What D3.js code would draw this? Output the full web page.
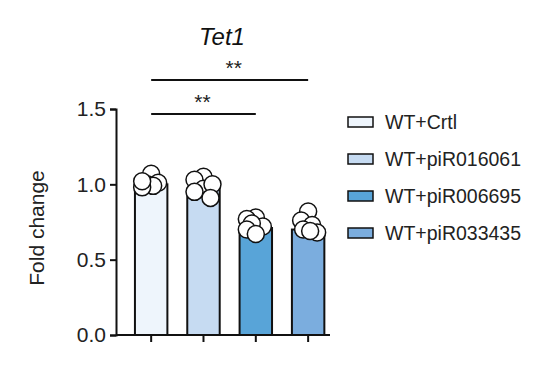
<!DOCTYPE html>
<html>
<head>
<meta charset="utf-8">
<script src="https://cdn.jsdelivr.net/npm/d3@7"></script>
<style>
  html, body { margin: 0; padding: 0; background: #fff; }
  svg { display: block; font-family: "Liberation Sans", Arial, sans-serif; }
</style>
</head>
<body>
<div id="chart"></div>
<script>
// data
const groups = ["WT+Crtl", "WT+piR016061", "WT+piR006695", "WT+piR033435"];
const means = [1.00, 0.97, 0.71, 0.70];
const points = [
    [1.07, 1.00, 1.01, 0.99, 0.98, 1.02],
    [1.05, 1.03, 0.97, 1.00, 0.95, 0.91],
    [0.78, 0.77, 0.72, 0.74, 0.70, 0.67],
    [0.82, 0.76, 0.73, 0.70, 0.68, 0.69]
];
const colors = ["#eef5fc", "#c6dbf2", "#58a4d8", "#7badde"];
const yTicks = [0, 0.5, 1.0, 1.5];
const comparisons = [
    { from: 0, to: 2, label: "**" },
    { from: 0, to: 3, label: "**" }
];

const width = 549, height = 389;
const margin = { top: 109, right: 219, bottom: 54, left: 116 };

const svg = d3.select("#chart").append("svg")
    .attr("width", width)
    .attr("height", height);

const x = d3.scaleBand()
    .domain(groups)
    .range([125, 334.3])
    .paddingInner(0.38)
    .paddingOuter(0.19);

const y = d3.scaleLinear()
    .domain([0, 1.5])
    .range([height - margin.bottom, margin.top]);

const cx = g => x(g) + x.bandwidth() / 2;

// bars
svg.append("g")
    .selectAll("rect")
    .data(groups)
    .join("rect")
    .attr("x", d => x(d))
    .attr("y", (d, i) => y(means[i]))
    .attr("width", x.bandwidth())
    .attr("height", (d, i) => y(0) - y(means[i]))
    .attr("fill", (d, i) => colors[i])
    .attr("stroke", "#111")
    .attr("stroke-width", 2);

// small swarm: keep the dots inside the bar, let them overlap when crowded
function swarm(vals, center) {
    const placed = [];
    const minDist = 11, maxOff = 9;
    vals.forEach(v => {
        const py = y(v);
        let best = 0, bestD = -1;
        for (let k = 0; k <= 2 * maxOff; k++) {
            const off = (k % 2 === 0 ? 1 : -1) * Math.ceil(k / 2);
            const d = placed.length ? d3.min(placed, p => Math.hypot(p.x - (center + off), p.y - py)) : Infinity;
            if (d >= minDist) { best = off; break; }
            if (d > bestD) { bestD = d; best = off; }
        }
        placed.push({ x: center + best, y: py });
    });
    return placed;
}

groups.forEach((g, i) => {
    svg.append("g")
        .selectAll("circle")
        .data(swarm(points[i], cx(g)))
        .join("circle")
        .attr("cx", d => d.x)
        .attr("cy", d => d.y)
        .attr("r", 8.5)
        .attr("fill", "#fff")
        .attr("stroke", "#111")
        .attr("stroke-width", 1.5);
});

// y axis
const yAxis = svg.append("g")
    .attr("transform", `translate(${margin.left},0)`)
    .call(d3.axisLeft(y).tickValues(yTicks).tickFormat(d3.format(".1f")).tickSize(6).tickPadding(4));
yAxis.select(".domain").attr("stroke", "#111").attr("stroke-width", 2);
yAxis.selectAll(".tick line").attr("stroke", "#111").attr("stroke-width", 2);
yAxis.selectAll("text").attr("font-size", 21).attr("fill", "#222");

// x axis
const xAxis = svg.append("g")
    .attr("transform", `translate(0,${y(0)})`)
    .call(d3.axisBottom(x).tickSize(7).tickFormat(""));
xAxis.select(".domain")
    .attr("d", `M${margin.left},0H${margin.left + 214}`)
    .attr("stroke", "#111").attr("stroke-width", 2);
xAxis.selectAll(".tick line").attr("stroke", "#111").attr("stroke-width", 2);

// y label
svg.append("text")
    .attr("transform", `translate(44,${(y(0) + y(1.5)) / 2 + 6}) rotate(-90)`)
    .attr("text-anchor", "middle")
    .attr("font-size", 21)
    .attr("fill", "#222")
    .text("Fold change");

// title
svg.append("text")
    .attr("x", 222)
    .attr("y", 45)
    .attr("text-anchor", "middle")
    .attr("font-size", 24)
    .attr("font-style", "italic")
    .attr("fill", "#111")
    .text("Tet1");

// significance bars
const sigY = [114, 80];
comparisons.forEach((c, i) => {
    const x1 = cx(groups[c.from]), x2 = cx(groups[c.to]);
    svg.append("line")
        .attr("x1", x1).attr("x2", x2)
        .attr("y1", sigY[i]).attr("y2", sigY[i])
        .attr("stroke", "#111").attr("stroke-width", 2);
    svg.append("text")
        .attr("x", (x1 + x2) / 2 + (i === 1 ? 4 : -1))
        .attr("y", sigY[i] - 5)
        .attr("text-anchor", "middle")
        .attr("font-size", 21)
        .attr("fill", "#222")
        .text(c.label);
});

// legend
const legend = svg.append("g")
    .selectAll("g")
    .data(groups)
    .join("g")
    .attr("transform", (d, i) => `translate(348,${122 + i * 37})`);
legend.append("rect")
    .attr("x", 0).attr("y", -5)
    .attr("width", 25).attr("height", 10)
    .attr("fill", (d, i) => colors[i])
    .attr("stroke", "#111")
    .attr("stroke-width", 1.5);
legend.append("text")
    .attr("x", 37)
    .attr("y", 7)
    .attr("font-size", 19.5)
    .attr("fill", "#222")
    .text(d => d);
</script>
</body>
</html>
